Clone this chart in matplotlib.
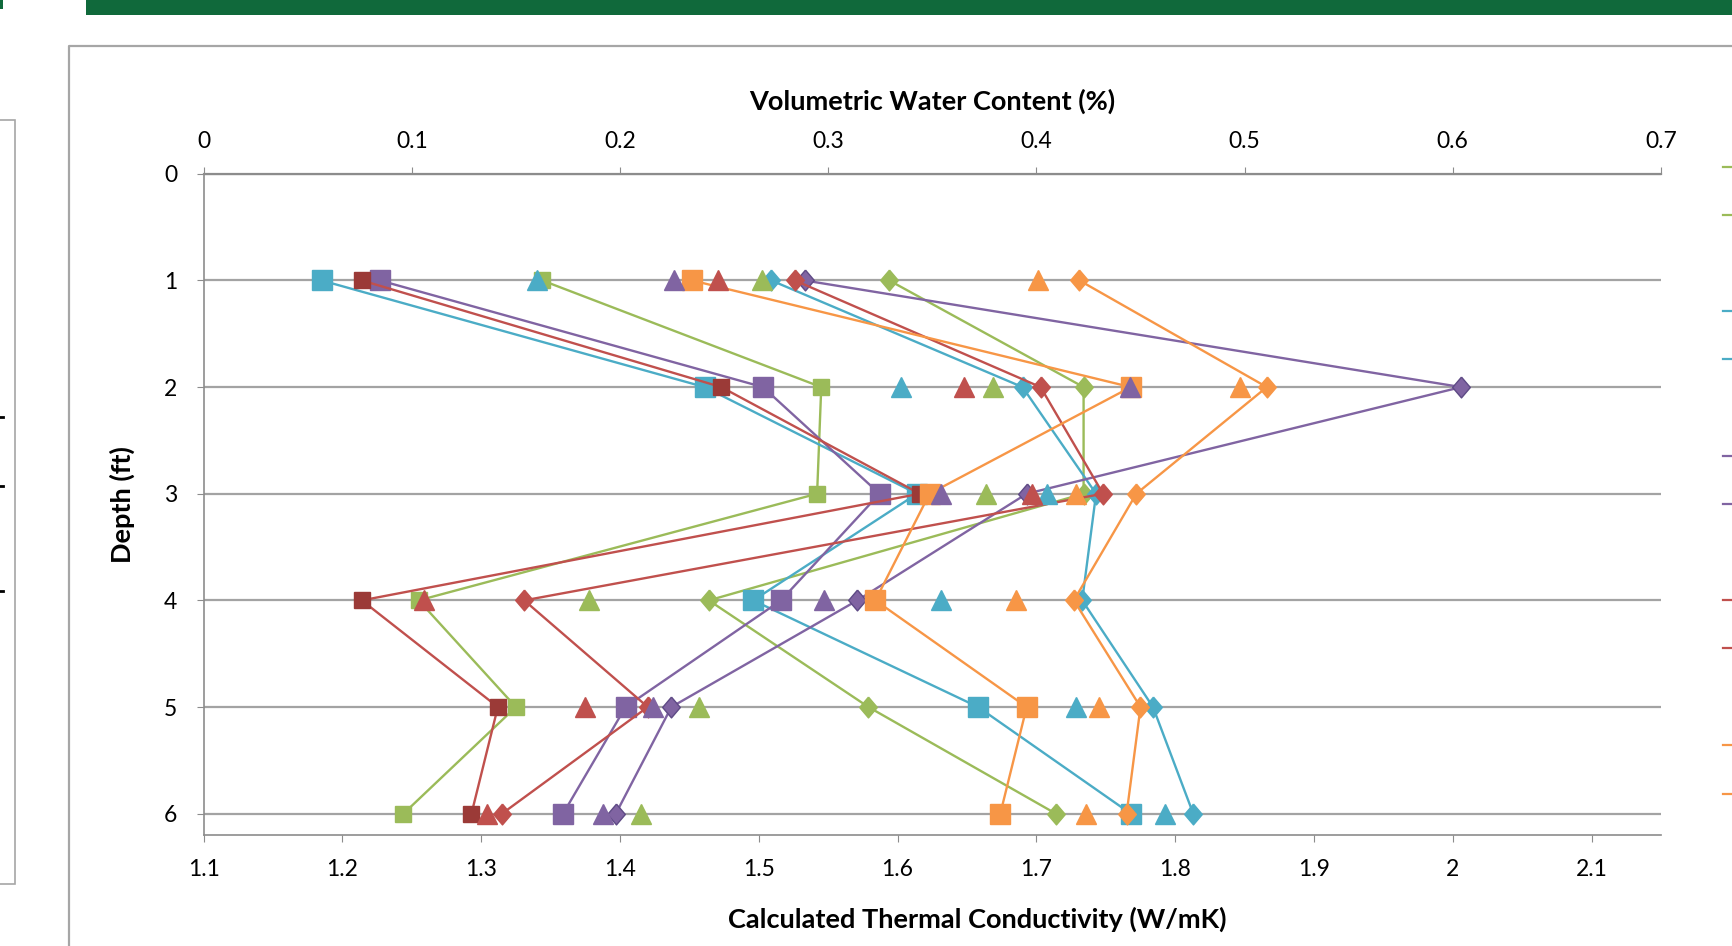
import numpy as np
import matplotlib.pyplot as plt
from matplotlib.lines import Line2D
from matplotlib.patches import Rectangle
from matplotlib.ticker import FuncFormatter

plt.rcParams['font.family'] = ['Lato', 'DejaVu Sans']

depth = [1, 2, 3, 4, 5, 6]

# calculated thermal conductivity (W/mK) - bottom axis, drawn with lines
k_green_sq = [1.344, 1.545, 1.542, 1.255, 1.325, 1.244]
k_green_dm = [1.594, 1.734, 1.734, 1.464, 1.579, 1.714]
k_cyan_sq = [1.185, 1.461, 1.614, 1.496, 1.658, 1.768]
k_cyan_dm = [1.509, 1.690, 1.743, 1.733, 1.784, 1.813]
k_purple_sq = [1.227, 1.503, 1.587, 1.516, 1.404, 1.359]
k_purple_dm = [1.533, 2.006, 1.693, 1.571, 1.437, 1.397]
k_red_sq = [1.214, 1.473, 1.616, 1.214, 1.312, 1.293]
k_red_dm = [1.526, 1.703, 1.748, 1.331, 1.420, 1.315]
k_orange_sq = [1.452, 1.768, 1.623, 1.584, 1.693, 1.674]
k_orange_dm = [1.731, 1.866, 1.772, 1.727, 1.775, 1.765]

# volumetric water content - top axis, markers only
vwc_green = [0.268, 0.379, 0.376, 0.185, 0.238, 0.210]
vwc_cyan = [0.160, 0.335, 0.405, 0.354, 0.419, 0.462]
vwc_purple = [0.226, 0.445, 0.354, 0.298, 0.216, 0.192]
vwc_red = [0.247, 0.365, 0.398, 0.106, 0.183, 0.136]
vwc_orange = [0.401, 0.498, 0.419, 0.390, 0.430, 0.424]

green = '#9BBB59'
cyan = '#4BACC6'
purple = '#8064A2'
red = '#C0504D'
darkred = '#9B3A37'
orange = '#F79646'
grid_c = '#A3A3A3'

diamond = [(0, 1), (0.85, 0), (0, -1), (-0.85, 0), (0, 1)]

fig = plt.figure(figsize=(17.32, 9.46), dpi=100)
W, H = 1732, 946
ax = fig.add_axes([203.6 / W, 1 - 835 / H, (1661 - 203.6) / W, (835 - 173.8) / H])
ax.patch.set_alpha(0)

# lines with squares and diamonds
ax.plot(k_green_sq, depth, color=green, lw=1.7, marker='s', ms=11, mec=green, mfc=green)
ax.plot(k_green_dm, depth, color=green, lw=1.7, marker=diamond, ms=15, mec=green, mfc=green)
ax.plot(k_cyan_sq, depth, color=cyan, lw=1.7, marker='s', ms=14, mec=cyan, mfc=cyan)
ax.plot(k_cyan_dm, depth, color=cyan, lw=1.7, marker=diamond, ms=15, mec=cyan, mfc=cyan)
ax.plot(k_purple_sq, depth, color=purple, lw=1.7, marker='s', ms=14, mec=purple, mfc=purple)
ax.plot(k_purple_dm, depth, color=purple, lw=1.7, marker=diamond, ms=15, mec='#5E4A85', mfc=purple)
ax.plot(k_red_sq, depth, color=red, lw=1.7, marker='s', ms=11, mec=darkred, mfc=darkred)
ax.plot(k_red_dm, depth, color=red, lw=1.7, marker=diamond, ms=15, mec=red, mfc=red)
ax.plot(k_orange_sq, depth, color=orange, lw=1.7, marker='s', ms=14, mec=orange, mfc=orange)
ax.plot(k_orange_dm, depth, color=orange, lw=1.7, marker=diamond, ms=15, mec=orange, mfc=orange)

ax.set_xlim(1.1, 2.15)
ax.set_ylim(6.2, 0)
ax.set_xticks(np.arange(1.1, 2.11, 0.1))
ax.xaxis.set_major_formatter(FuncFormatter(lambda v, p: '{:g}'.format(round(v, 2))))
ax.set_yticks(range(0, 7))
ax.yaxis.grid(True, color=grid_c, lw=1.6)
ax.set_axisbelow(True)
for s in ['top', 'right']:
    ax.spines[s].set_visible(False)
for s in ['left', 'bottom']:
    ax.spines[s].set_color('#8C8C8C')
    ax.spines[s].set_linewidth(1.2)
ax.tick_params(axis='x', direction='out', length=5, color='#8C8C8C', labelsize=16.5, pad=12)
ax.tick_params(axis='y', direction='out', length=5, color='#8C8C8C', labelsize=16.5, pad=14)

# top axis: water content triangles
ax2 = ax.twiny()
ax2.plot(vwc_green, depth, ls='none', marker='^', ms=14, color=green)
ax2.plot(vwc_cyan, depth, ls='none', marker='^', ms=14, color=cyan)
ax2.plot(vwc_purple, depth, ls='none', marker='^', ms=14, color=purple)
ax2.plot(vwc_red, depth, ls='none', marker='^', ms=14, color=red)
ax2.plot(vwc_orange, depth, ls='none', marker='^', ms=14, color=orange)
ax2.set_xlim(0, 0.7)
ax2.set_xticks(np.arange(0, 0.71, 0.1))
ax2.xaxis.set_major_formatter(FuncFormatter(lambda v, p: '{:g}'.format(round(v, 2))))
for s in ['left', 'right', 'bottom']:
    ax2.spines[s].set_visible(False)
ax2.spines['top'].set_color('#8C8C8C')
ax2.spines['top'].set_linewidth(1.6)
ax2.tick_params(axis='x', direction='out', length=5, color='#8C8C8C', labelsize=16.5, pad=10.5)

ax2.set_xlabel('Volumetric Water Content (%)', fontsize=19.5, fontweight='bold')
ax2.xaxis.set_label_coords(0.5, 1.097)
ax.set_xlabel('Calculated Thermal Conductivity (W/mK)', fontsize=19.5, fontweight='bold')
ax.xaxis.set_label_coords((977 - 203.6) / 1457.4, -0.108)
ax.set_ylabel('Depth (ft)', fontsize=19.5, fontweight='bold')
ax.yaxis.set_label_coords(-0.047, 0.5)

# slide decorations around the chart
fig.add_artist(Rectangle((86 / W, 1 - 15 / H), 1, 15 / H, transform=fig.transFigure,
                         color='#10693B', lw=0))
fig.add_artist(Rectangle((0, 1 - 9 / H), 3 / W, 9 / H, transform=fig.transFigure,
                         color='#10693B', lw=0))
fig.add_artist(Line2D([68.5 / W, 68.5 / W, 1], [0, 1 - 46.5 / H, 1 - 46.5 / H],
                      transform=fig.transFigure, color='#A6A6A6', lw=1.6))
fig.add_artist(Rectangle((-0.01, 1 - 884 / H), 0.01 + 14.5 / W, (884 - 120) / H,
                         transform=fig.transFigure, fill=False, ec='#A6A6A6', lw=1.2))
for yy in [417, 486, 591]:
    fig.add_artist(Line2D([0, 3 / W], [1 - yy / H, 1 - yy / H], transform=fig.transFigure,
                          color='black', lw=2))

# legend stubs (legend is cut off at the right edge)
stub_y = [167, 215, 311, 359, 456, 504, 600, 648, 745, 794]
stub_c = [green, green, cyan, cyan, purple, purple, red, red, orange, orange]
for yy, cc in zip(stub_y, stub_c):
    fig.add_artist(Line2D([1723 / W, 1], [1 - yy / H, 1 - yy / H], transform=fig.transFigure,
                          color=cc, lw=1.6))

fig.savefig('out.png', dpi=100)
